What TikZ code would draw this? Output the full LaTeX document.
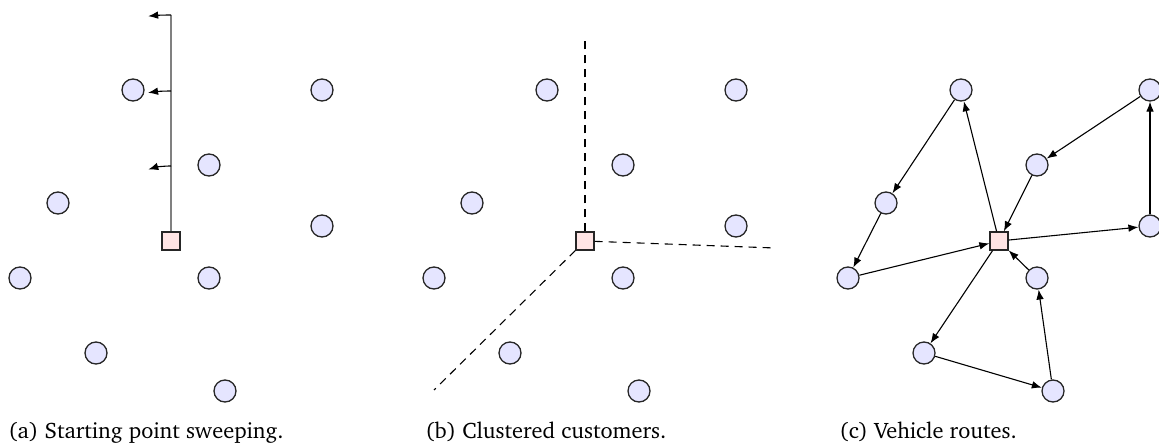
\documentclass[tikz,border=0pt]{standalone}
\usepackage[T1]{fontenc}
\usepackage{charter}
\usetikzlibrary{arrows.meta}
\tikzset{
  cust/.style={circle,draw=black!85,fill=blue!10,line width=0.65pt,minimum size=11pt,inner sep=0pt},
  depot/.style={rectangle,draw=black!85,fill=red!10,line width=0.65pt,minimum size=9pt,inner sep=0pt},
  route/.style={line width=0.55pt,-{Latex[length=5pt,width=3.8pt]}},
  sweep/.style={line width=0.55pt,-{Latex[length=5pt,width=3.8pt]}},
  sweepline/.style={draw=black!50,line width=0.9pt},
  cluster/.style={line width=0.55pt,dash pattern=on 4pt off 3pt},
  capt/.style={anchor=base west,inner sep=0pt,font=\fontsize{11.2}{13}\selectfont}
}
\begin{document}
\begin{tikzpicture}[x=0.5pt,y=0.5pt]
\useasboundingbox (0,0) rectangle (1159,445);
\foreach \p/\dx in {a/0,b/414,c/828}{
  \node[depot] (\p d) at (171+\dx,204) {};
  \foreach \i/\x/\y in {1/133/355,2/322/355,3/209/280,4/58/242,5/322/219,6/20/167,7/209/167,8/96/92,9/225/54}{
    \node[cust] (\p\i) at (\x+\dx,\y) {};
  }
}
% (a) sweeping
\coordinate (atop) at (171,430);
\draw[sweepline] (ad.north) -- (atop);
\draw[sweep] (171,430) arc[start angle=90,end angle=95.8,radius=226];
\draw[sweep] (171,354) arc[start angle=90,end angle=98.8,radius=150];
\draw[sweep] (171,279) arc[start angle=90,end angle=107.6,radius=75];
% (b) clusters
\coordinate (bu) at (585,407);
\coordinate (br) at (775,197);
\coordinate (bl) at (434,55);
\draw[cluster] (bd) -- (bu);
\draw[cluster] (bd) -- (br);
\draw[cluster] (bd) -- (bl);
% (c) routes
\draw[route] (cd) -- (c1);
\draw[route] (c1) -- (c4);
\draw[route] (c4) -- (c6);
\draw[route] (c6) -- (cd);
\draw[route] (cd) -- (c5);
\draw[route] (c5) -- (c2);
\draw[route] (c2) -- (c3);
\draw[route] (c3) -- (cd);
\draw[route] (cd) -- (c8);
\draw[route] (c8) -- (c9);
\draw[route] (c9) -- (c7);
\draw[route] (c7) -- (cd);
% captions
\node[capt] (capa) at (8,7) {(a) Starting point sweeping.};
\node[capt] (capb) at (425,7) {(b) Clustered customers.};
\node[capt] (capc) at (839,7) {(c) Vehicle routes.};
\end{tikzpicture}
\end{document}
